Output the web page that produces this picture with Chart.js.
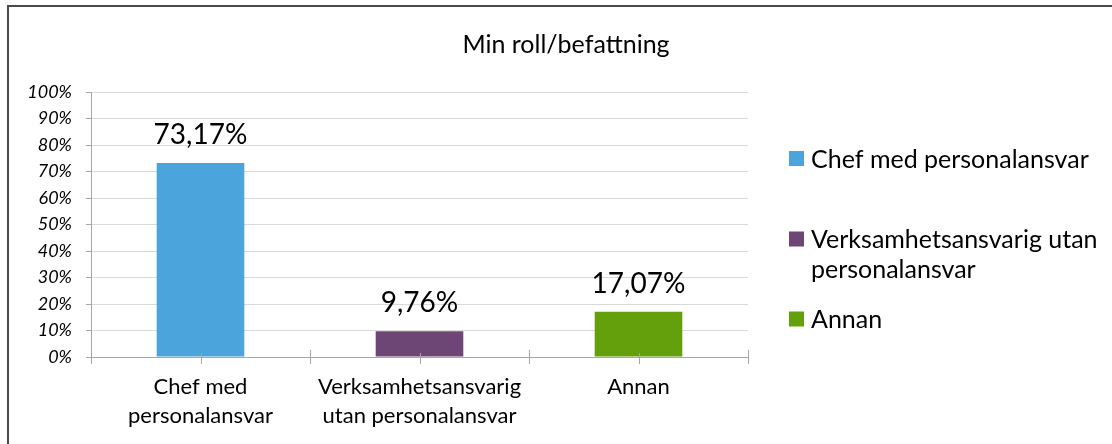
<!DOCTYPE html>
<html>
<head>
<meta charset="utf-8">
<script src="https://cdn.jsdelivr.net/npm/chart.js@4/dist/chart.umd.min.js"></script>
<style>
	body { margin: 0; background: #fff; overflow: hidden; }
	#wrap { position: relative; width: 1112px; height: 444px; }
	#frame {
		position: absolute; left: 7px; top: 5px; width: 1200px; height: 500px;
		border: 2px solid #4a4a4a; box-sizing: border-box; pointer-events: none;
	}
</style>
</head>
<body>
<div id="wrap">
	<canvas id="rollChart" width="1112" height="444"></canvas>
	<div id="frame"></div>
</div>
<script>
// data
const categories = [
	["Chef med", "personalansvar"],
	["Verksamhetsansvarig", "utan personalansvar"],
	["Annan"],
];
const legendLines = [
	["Chef med personalansvar"],
	["Verksamhetsansvarig utan", "personalansvar"],
	["Annan"],
];
const shares = [73.17, 9.76, 17.07];
const barColors = ["#4ba4db", "#6d4675", "#63a00b"];
const yTicks = [0, 10, 20, 30, 40, 50, 60, 70, 80, 90, 100];
const chartTitle = "Min roll/befattning";

const FONT = "Lato, 'Open Sans', sans-serif";

// title, centred on the whole picture
const topTitle = {
	id: "topTitle",
	afterDraw(chart) {
		const ctx = chart.ctx;
		ctx.save();
		ctx.font = "25px " + FONT;
		ctx.fillStyle = "#000";
		ctx.textAlign = "center";
		ctx.textBaseline = "middle";
		ctx.fillText(chartTitle, 566, 45);
		ctx.restore();
	},
};

// value labels above bars
const valueLabels = {
	id: "valueLabels",
	afterDatasetsDraw(chart) {
		const ctx = chart.ctx;
		const meta = chart.getDatasetMeta(0);
		ctx.save();
		ctx.font = "28px " + FONT;
		ctx.fillStyle = "#000";
		ctx.textAlign = "center";
		ctx.textBaseline = "alphabetic";
		meta.data.forEach((bar, i) => {
			let txt = shares[i].toFixed(2).replace(".", ",") + "%";
			ctx.fillText(txt, bar.x, bar.y - 19);
		});
		ctx.restore();
	},
};

// x axis tick marks (crossing the axis)
const xTickMarks = {
	id: "xTickMarks",
	afterDraw(chart) {
		const ctx = chart.ctx;
		const x = chart.scales.x;
		const yAxis = chart.chartArea.bottom;
		ctx.save();
		ctx.strokeStyle = "#a6a6a6";
		ctx.lineWidth = 1;
		const step = (x.right - x.left) / categories.length;
		for (let i = 0; i <= categories.length; i++) {
			let px = Math.round(x.left + i * step) + 0.5;
			ctx.beginPath();
			ctx.moveTo(px, yAxis - 7);
			ctx.lineTo(px, yAxis + 7);
			ctx.stroke();
		}
		categories.forEach((c, i) => {
			let px = Math.round(x.getPixelForValue(i)) + 0.5;
			ctx.beginPath();
			ctx.moveTo(px, yAxis - 4);
			ctx.lineTo(px, yAxis + 7);
			ctx.stroke();
		});
		ctx.restore();
	},
};

// legend on the right
const sideLegend = {
	id: "sideLegend",
	afterDraw(chart) {
		const ctx = chart.ctx;
		const tops = [158.5, 239, 319];
		ctx.save();
		ctx.font = "25px " + FONT;
		ctx.textBaseline = "middle";
		ctx.textAlign = "left";
		legendLines.forEach((lines, i) => {
			ctx.fillStyle = barColors[i];
			ctx.fillRect(789, tops[i] - 7.5, 15, 15);
			ctx.fillStyle = "#000";
			lines.forEach((line, j) => {
				ctx.fillText(line, 811, tops[i] + j * 30 + 1);
			});
		});
		ctx.restore();
	},
};

new Chart(document.getElementById("rollChart"), {
	type: "bar",
	data: {
		labels: categories,
		datasets: [
			{
				label: chartTitle,
				data: shares,
				backgroundColor: barColors,
				barPercentage: 0.4,
				categoryPercentage: 1,
			},
		],
	},
	options: {
		responsive: false,
		animation: false,
		layout: { padding: { left: 0, right: 364, top: 92, bottom: 0 } },
		plugins: {
			legend: { display: false },
			tooltip: { enabled: false },
			title: { display: false },
		},
		scales: {
			x: {
				afterFit(scale) {
					scale.height = 87;
				},
				grid: { display: false, drawTicks: false },
				border: { color: "#a6a6a6", width: 1 },
				ticks: {
					color: "#000",
					padding: 15,
					font: { family: FONT, size: 22, lineHeight: 1.32 },
					maxRotation: 0,
				},
			},
			y: {
				min: 0,
				max: 100,
				afterFit(scale) {
					scale.width = 91;
				},
				afterBuildTicks(scale) {
					scale.ticks = yTicks.map((v) => ({ value: v }));
				},
				grid: {
					color: "#d9d9d9",
					tickColor: "#a6a6a6",
					tickLength: 5,
				},
				border: { color: "#a6a6a6", width: 1 },
				ticks: {
					color: "#000",
					padding: 14,
					font: { family: FONT, size: 18, style: "italic" },
					callback: (v) => v + "%",
				},
			},
		},
	},
	plugins: [topTitle, valueLabels, xTickMarks, sideLegend],
});
</script>
</body>
</html>
